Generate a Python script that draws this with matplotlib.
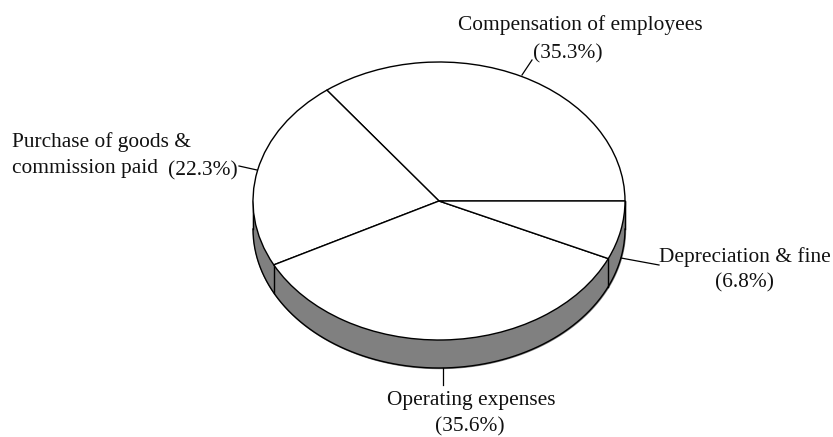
import numpy as np
import matplotlib
matplotlib.use("Agg")
import matplotlib.pyplot as plt

W, H = 833, 437
plt.rcParams['font.family'] = ['Liberation Serif', 'DejaVu Serif']

# Data
names = ["Compensation of employees", "Purchase of goods &", "commission paid", "Operating expenses", "Depreciation & fine"]
shares = [35.3, 22.3, 35.6, 6.8]
share_labels = ["(35.3%)", "(22.3%)", "(35.6%)", "(6.8%)"]

# Ellipse geometry in pixels
cx, cy, rx, ry = 439, 201, 186, 139
depth = 28

fig = plt.figure(figsize=(W / 100, H / 100), dpi=100)
ax = fig.add_axes([(cx - rx) / W, 1 - (cy + ry) / H, 2 * rx / W, 2 * ry / H])

# top face
wedges, _ = ax.pie(shares, startangle=0, counterclock=True, radius=1,
                   colors=["white"] * 4,
                   wedgeprops=dict(edgecolor="black", linewidth=1.0))
ax.set_aspect("auto")
ax.set_xlim(-1, 1)
ax.set_ylim(-1, 1)
ax.axis("off")
for w in wedges:
    w.set_zorder(3)

# side wall
d = depth / ry
t = np.radians(np.linspace(180, 360, 181))
ax.fill_between(np.cos(t), np.sin(t), np.sin(t) - d, color="#808080", clip_on=False, zorder=1)
ax.plot(np.cos(t), np.sin(t) - d, color="black", lw=1.0, clip_on=False, zorder=2)
for a in [180, 360]:
    ax.plot([np.cos(np.radians(a))] * 2, [0, -d], color="black", lw=1.0, clip_on=False, zorder=2)

# slice edges on the wall
cum = np.cumsum(shares) * 3.6
for a in cum[1:3]:
    r = np.radians(a)
    ax.plot([np.cos(r)] * 2, [np.sin(r), np.sin(r) - d], color="black", lw=1.0, clip_on=False, zorder=2)


def fx(x):
    return x / W


def fy(y):
    return 1 - y / H


# leader lines
leaders = [((522, 75), (532, 60)), ((239, 166), (257, 170)), ((621, 258), (659, 265)), ((443, 368), (443, 385))]
for (x0, y0), (x1, y1) in leaders:
    fig.add_artist(plt.Line2D([fx(x0), fx(x1)], [fy(y0), fy(y1)], color="black", lw=0.9))

# labels
fs = 15.4
col = "#111111"
fig.text(fx(580), fy(25), names[0], ha="center", va="center", fontsize=fs, color=col)
fig.text(fx(568), fy(54), share_labels[0], ha="center", va="center", fontsize=fs, color=col)
fig.text(fx(12), fy(142), names[1], ha="left", va="center", fontsize=fs, color=col)
fig.text(fx(12), fy(169), names[2], ha="left", va="center", fontsize=fs, color=col)
fig.text(fx(168), fy(171), share_labels[1], ha="left", va="center", fontsize=fs, color=col)
fig.text(fx(471), fy(401), names[3], ha="center", va="center", fontsize=fs, color=col)
fig.text(fx(470), fy(427), share_labels[2], ha="center", va="center", fontsize=fs, color=col)
fig.text(fx(745), fy(257), names[4], ha="center", va="center", fontsize=fs, color=col)
fig.text(fx(744), fy(283), share_labels[3], ha="center", va="center", fontsize=fs, color=col)

fig.savefig("out.png", dpi=100)
